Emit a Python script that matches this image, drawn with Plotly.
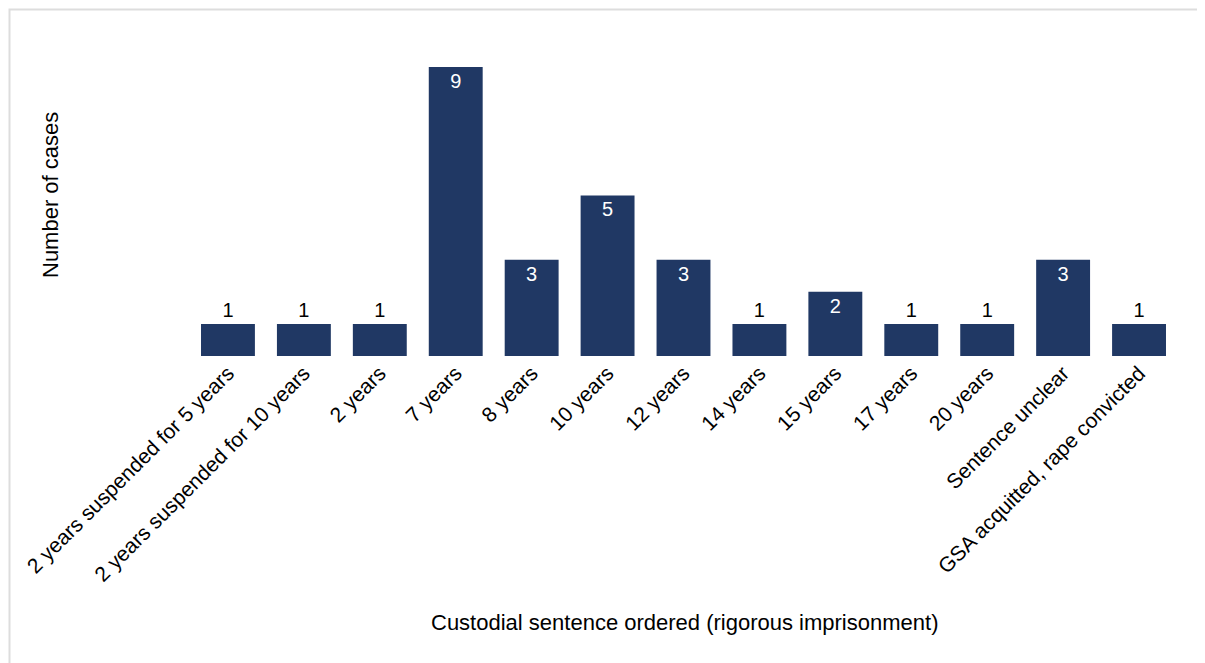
import plotly.graph_objects as go

categories = ["2 years suspended for 5 years", "2 years suspended for 10 years", "2 years",
              "7 years", "8 years", "10 years", "12 years", "14 years", "15 years",
              "17 years", "20 years", "Sentence unclear", "GSA acquitted, rape convicted"]
cases = [1, 1, 1, 9, 3, 5, 3, 1, 2, 1, 1, 3, 1]

OFF = 8  # page body margin
W, H = 1205 - OFF, 663 - OFF
ML = 190 - OFF
MT = 67 - OFF
MR = W - (1177 - OFF)
MB = H - (356 - OFF)
FONT = "Liberation Sans, Arial, Helvetica, sans-serif"
NAVY = "#203864"

positions = ["outside" if v == 1 else "inside" for v in cases]

fig = go.Figure(go.Bar(
    x=categories, y=cases, text=[str(v) for v in cases],
    textposition=positions, insidetextanchor="end",
    insidetextfont=dict(color="white", size=20, family=FONT),
    outsidetextfont=dict(color="black", size=20, family=FONT),
    constraintext="none", cliponaxis=False,
    marker=dict(color=NAVY, line=dict(width=0)),
))

pw, ph = W - ML - MR, H - MT - MB


def px_x(x):
    return (x - OFF - ML) / pw


def px_y(y):
    return (H - MB - (y - OFF)) / ph


fig.update_layout(
    width=W, height=H, margin=dict(l=ML, r=MR, t=MT, b=MB),
    paper_bgcolor="white", plot_bgcolor="white", bargap=0.29,
    showlegend=False, font=dict(family=FONT, size=21, color="black"),
    xaxis=dict(tickangle=-45, showgrid=False, showline=False, zeroline=False,
               tickfont=dict(size=21, color="black"), ticks=""),
    yaxis=dict(range=[0, 9], visible=False),
    annotations=[
        dict(text="Number of cases", textangle=-90, xref="paper", yref="paper",
             x=px_x(50), y=px_y(195), xanchor="center", yanchor="middle", showarrow=False,
             font=dict(size=22, color="black")),
        dict(text="Custodial sentence ordered (rigorous imprisonment)", xref="paper", yref="paper",
             x=px_x(684), y=px_y(622), xanchor="center", yanchor="middle", showarrow=False,
             font=dict(size=22, color="black")),
    ],
    shapes=[dict(type="rect", xref="paper", yref="paper",
                 x0=px_x(OFF + 1.5), x1=px_x(1230),
                 y0=px_y(700), y1=px_y(OFF + 1.5),
                 line=dict(color="#dddddd", width=2), layer="below")],
)
fig.write_html("out.html")
